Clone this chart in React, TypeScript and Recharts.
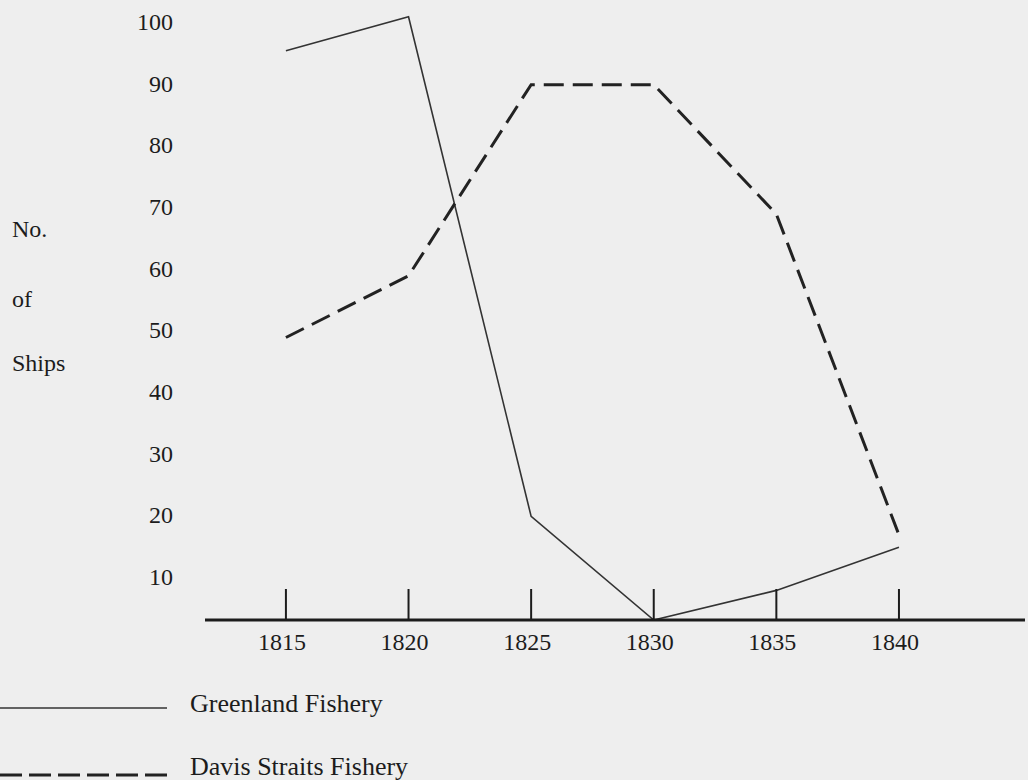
import React from "react";
import { LineChart, Line, XAxis, YAxis } from "recharts";

const years = [1815, 1820, 1825, 1830, 1835, 1840];
const greenland = [95.5, 101, 20, 3.2, 8, 15];
const davis = [49, 59, 90, 90, 69, 17];
const xTicks = [1815, 1820, 1825, 1830, 1835, 1840];
const yTicks = [10, 20, 30, 40, 50, 60, 70, 80, 90, 100];
const axisLabelLines = ["No.", "of", "Ships"];
const seriesNames = ["Greenland Fishery", "Davis Straits Fishery"];

const data = years.map((year, i) => ({
  year,
  greenland: greenland[i],
  davis: davis[i],
}));

const FONT = '"Liberation Serif", "Times New Roman", serif';
const INK = "#1c1c1c";

const XTick = (props: any) => {
  const { x, y, payload } = props;
  return (
    <g>
      <line x1={x} x2={x} y1={y - 31} y2={y} stroke={INK} strokeWidth={2} />
      <text x={x - 4} y={y + 30} textAnchor="middle" fontSize={24} fontFamily={FONT} fill={INK}>
        {payload.value}
      </text>
    </g>
  );
};

const YTick = (props: any) => {
  const { x, y, payload } = props;
  return (
    <text x={x - 32} y={y + 7} textAnchor="end" fontSize={24} fontFamily={FONT} fill={INK}>
      {payload.value}
    </text>
  );
};

const LegendBlock = () => (
  <div
    style={{
      position: "absolute",
      left: 0,
      top: 680,
      width: 460,
      height: 100,
      fontFamily: FONT,
      color: INK,
    }}
  >
    <svg width={170} height={100} style={{ position: "absolute", left: 0, top: 0 }}>
      <line x1={0} x2={167} y1={28} y2={28} stroke="#333" strokeWidth={1.6} />
      <line x1={0} x2={167} y1={95} y2={95} stroke="#222" strokeWidth={3} strokeDasharray="22 7" />
    </svg>
    <div style={{ position: "absolute", left: 190, top: 9, fontSize: 26, lineHeight: "30px", whiteSpace: "nowrap" }}>
      {seriesNames[0]}
    </div>
    <div style={{ position: "absolute", left: 190, top: 72, fontSize: 26, lineHeight: "30px", whiteSpace: "nowrap" }}>
      {seriesNames[1]}
    </div>
  </div>
);

export default function App() {
  return (
    <div
      style={{
        position: "absolute",
        left: 0,
        top: 0,
        width: 1028,
        height: 780,
        background: "#eeeeee",
        overflow: "hidden",
      }}
    >
      <LineChart width={1028} height={780} data={data} margin={{ top: 10, right: 3, left: 0, bottom: 0 }}>
        <XAxis
          dataKey="year"
          type="number"
          domain={[1811.7, 1845.14]}
          ticks={xTicks}
          allowDataOverflow
          height={160}
          tickLine={false}
          tickSize={0}
          tickMargin={0}
          axisLine={{ stroke: INK, strokeWidth: 3 }}
          tick={<XTick />}
          interval={0}
        />
        <YAxis
          type="number"
          domain={[3.2, 102.1]}
          ticks={yTicks}
          allowDataOverflow
          width={205}
          axisLine={false}
          tickLine={false}
          tickSize={0}
          tickMargin={0}
          tick={<YTick />}
          interval={0}
        />
        <Line
          type="linear"
          dataKey="greenland"
          name={seriesNames[0]}
          stroke="#333"
          strokeWidth={1.6}
          dot={false}
          isAnimationActive={false}
        />
        <Line
          type="linear"
          dataKey="davis"
          name={seriesNames[1]}
          stroke="#222"
          strokeWidth={3}
          strokeDasharray="20 9"
          dot={false}
          isAnimationActive={false}
        />
      </LineChart>
      <LegendBlock />
      {axisLabelLines.map((t, i) => (
        <div
          key={t}
          style={{
            position: "absolute",
            left: 12,
            top: [214, 284, 348][i],
            fontFamily: FONT,
            fontSize: 24,
            lineHeight: "30px",
            color: INK,
          }}
        >
          {t}
        </div>
      ))}
    </div>
  );
}
